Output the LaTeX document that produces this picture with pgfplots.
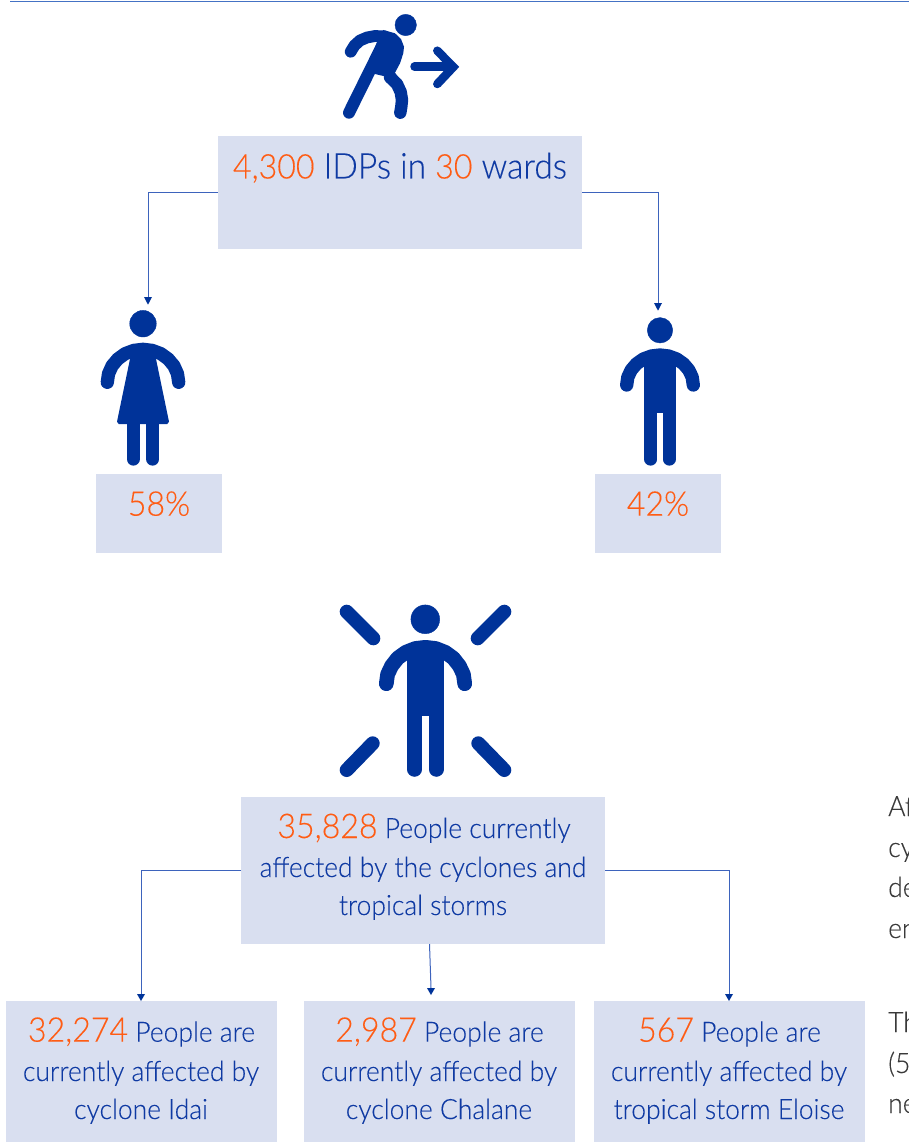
\documentclass[border=0pt]{standalone}
\usepackage{fontspec}
\setmainfont{Lato}[UprightFont={* Light},BoldFont={* Regular},FakeStretch=0.945,FakeBold=0.15]
\usepackage{pgfplots}
\pgfplotsset{compat=1.18}
\definecolor{boxc}{HTML}{D9DFF0}
\definecolor{navy}{HTML}{003399}
\definecolor{linec}{HTML}{3D63BC}
\definecolor{topc}{HTML}{4472C4}
\definecolor{blue}{HTML}{0F3AA3}
\definecolor{org}{HTML}{FF5C14}
\definecolor{gr}{HTML}{3A3A3A}
\newcommand{\rectbox}[4]{\addplot[draw=none,fill=boxc] coordinates {(#1,#3) (#2,#3) (#2,#4) (#1,#4)} -- cycle;}
\newcommand{\num}[1]{{\fontsize{34}{40}\selectfont\color{org}#1}}
\tikzset{ico/.style={draw=navy,line cap=round,line join=round,no markers},
 txt/.style={text=blue,anchor=base,font=\fontsize{28}{38}\selectfont},
 side/.style={text=gr,anchor=base west,inner sep=0pt,font=\fontsize{28}{38}\selectfont}}
\begin{document}
\begin{tikzpicture}
\begin{axis}[scale only axis,width=909pt,height=1142pt,xmin=0,xmax=909,ymin=0,ymax=1142,y dir=reverse,hide axis,clip=false]
% boxes
\rectbox{218}{582}{136}{249}
\rectbox{96}{222}{474}{553}
\rectbox{595}{721}{474}{553}
\rectbox{241}{605}{797}{944}
\rectbox{6}{277}{1001}{1142}
\rectbox{304}{575}{1001}{1142}
\rectbox{594}{865}{1001}{1142}
% top line
\addplot[topc,line width=1.5pt] coordinates {(10,1.6) (909,1.6)};
% connectors
\addplot[linec,line width=1pt] coordinates {(218,192) (148,192) (148,298)};
\addplot[linec,line width=1pt] coordinates {(582,192) (658,192) (658,304)};
\addplot[linec,line width=1pt] coordinates {(241,870) (141,870) (141,994)};
\addplot[linec,line width=1pt] coordinates {(605,870) (729,870) (729,994)};
\addplot[linec,line width=1pt] coordinates {(429.5,944) (431,988)};
\addplot[draw=none,fill=navy] coordinates {(144,297) (152,297) (148,304.7)} -- cycle;
\addplot[draw=none,fill=navy] coordinates {(654,303) (662,303) (658,310.7)} -- cycle;
\addplot[draw=none,fill=navy] coordinates {(137,994) (145,994) (141,1001)} -- cycle;
\addplot[draw=none,fill=navy] coordinates {(725,994) (733,994) (729,1001)} -- cycle;
\addplot[draw=none,fill=navy] coordinates {(427,988) (435,988) (431,995)} -- cycle;
% runner
\addplot[navy,only marks,mark=*,mark size=10.7pt] coordinates {(405.7,25)};
\addplot[draw=none,fill=navy] coordinates {(376.7,42.7) (383.3,30) (395,33.3) (401,39) (404,46.7) (403.3,53.3) (400,63.3) (395,72.7) (400,80) (375,74) (366.7,71.7)} -- cycle;
\addplot[ico,line width=11.8pt] coordinates {(350.7,51.7) (354.5,45.5) (360,40.5) (367,37.5) (375,36) (385,36.5)};
\addplot[ico,line width=12pt] coordinates {(349,112.7) (382,46)};
\addplot[ico,line width=12.4pt] coordinates {(390,77.3) (397,84) (400.7,92) (402,100) (401.3,106.7) (400.3,112.7)};
\addplot[ico,line width=8.5pt] coordinates {(414.5,66.7) (452,66.7)};
\addplot[draw=navy,line width=8.5pt,line cap=round,miter limit=10] coordinates {(437.3,50.7) (453.3,67) (437.3,84)};
% woman
\addplot[navy,only marks,mark=*,mark size=13.3pt] coordinates {(143,323.7)};
\addplot[ico,line width=13.3pt] coordinates {(107.3,382.3) (108.5,373.8) (112.1,365.8) (117.8,359) (125.1,353.7) (133.8,350.4) (143,349.3) (152.2,350.4) (160.9,353.7) (168.2,359) (173.9,365.8) (177.5,373.8) (178.7,382.3)};
\addplot[draw=none,fill=navy] coordinates {(131,350) (155,350) (156,359) (169,421.7) (167.3,424) (118.7,424) (117,421.7) (130,359)} -- cycle;
\addplot[ico,line width=13.3pt] coordinates {(133.2,420) (133.2,459)};
\addplot[ico,line width=13.3pt] coordinates {(152.7,420) (152.7,459)};
% man
\addplot[navy,only marks,mark=*,mark size=12.7pt] coordinates {(660,330.3)};
\addplot[ico,line width=13.3pt] coordinates {(626.7,385) (627.8,377.2) (631.2,370) (636.5,363.8) (643.3,359) (651.4,356) (660,355) (668.6,356) (676.7,359) (683.5,363.8) (688.8,370) (692.2,377.2) (693.3,385)};
\addplot[draw=none,fill=navy] coordinates {(644.3,353) (675.7,353) (675.7,413) (644.3,413)} -- cycle;
\addplot[ico,line width=12.7pt] coordinates {(650.7,410) (650.7,459.3)};
\addplot[ico,line width=12.7pt] coordinates {(669.3,410) (669.3,459.3)};
% affected person
\addplot[navy,only marks,mark=*,mark size=14.4pt] coordinates {(425.3,619.3)};
\addplot[ico,line width=14.7pt] coordinates {(386.3,683.7) (387.6,674.3) (391.6,665.9) (397.8,658) (405.9,652.2) (415.3,648.5) (425.5,647.3) (435.7,648.5) (445.1,652.2) (453.2,658) (459.4,665.9) (463.4,674.3) (464.7,683.7)};
\addplot[draw=none,fill=navy] coordinates {(407.3,645) (443.7,645) (443.7,716) (407.3,716)} -- cycle;
\addplot[ico,line width=14.5pt] coordinates {(414.5,712) (414.5,769.5)};
\addplot[ico,line width=14.5pt] coordinates {(436.3,712) (436.3,769.5)};
\addplot[ico,line width=14pt] coordinates {(346.7,611.7) (373.3,638.3)};
\addplot[ico,line width=14pt] coordinates {(504.3,611.7) (477.7,638.3)};
\addplot[ico,line width=14pt] coordinates {(372.7,743.3) (346.7,770)};
\addplot[ico,line width=14pt] coordinates {(478.3,743.3) (504.3,770)};
% texts
\node[text=blue,anchor=base,font=\fontsize{35.5}{40}\selectfont] at (axis cs:400,178.5) {\num{4,300} IDPs in \num{30} wards};
\node[anchor=base] at (axis cs:159,515.7) {\num{58\%}};
\node[anchor=base] at (axis cs:658,515.7) {\num{42\%}};
\node[txt] at (axis cs:424,838) {\num{35,828} People currently};
\node[txt] at (axis cs:423,877) {affected by the cyclones and};
\node[txt] at (axis cs:423,915) {tropical storms};
\node[txt] at (axis cs:141.5,1041.7) {\num{32,274} People are};
\node[txt] at (axis cs:141,1081) {currently affected by};
\node[txt] at (axis cs:141,1119) {cyclone Idai};
\node[txt] at (axis cs:439.5,1041.7) {\num{2,987} People are};
\node[txt] at (axis cs:439,1081) {currently affected by};
\node[txt] at (axis cs:439,1119) {cyclone Chalane};
\node[txt] at (axis cs:729.5,1041.7) {\num{567} People are};
\node[txt] at (axis cs:729,1081) {currently affected by};
\node[txt] at (axis cs:729,1119) {tropical storm Eloise};
% cut-off text at right edge
\node[side] at (axis cs:888,816) {Af};
\node[side] at (axis cs:888,857) {cy};
\node[side] at (axis cs:888,897) {de};
\node[side] at (axis cs:888,938) {en};
\node[side] at (axis cs:888,1032) {Th};
\node[side] at (axis cs:888,1073) {(5};
\node[side] at (axis cs:888,1113) {ne};
\end{axis}
\pgfresetboundingbox
\path[use as bounding box] (0,0) rectangle (909pt,1142pt);
\end{tikzpicture}
\end{document}
